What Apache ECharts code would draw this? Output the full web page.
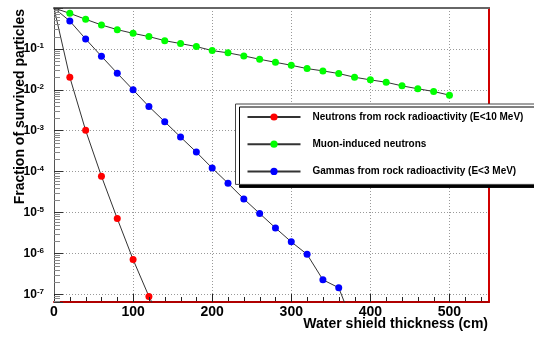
<!DOCTYPE html>
<html><head><meta charset="utf-8">
<script src="https://cdn.jsdelivr.net/npm/echarts@6/dist/echarts.min.js"></script>
<style>html,body{margin:0;padding:0;background:#fff}#c{width:534px;height:337px}</style>
</head><body><div id="c"></div>
<script>
// Water shield thickness (cm)
const thickness = [0,20,40,60,80,100,120,140,160,180,200,220,240,260,280,300,320,340,360,380,400,420,440,460,480,500];
// Neutrons from rock radioactivity (E<10 MeV)
const neutronsRock = [1, 0.0203, 1.02e-3, 7.7e-5, 7.1e-6, 7.1e-7, 8.9e-8, 1.5e-8];
// Muon-induced neutrons
const muonNeutrons = [1, 0.74, 0.53, 0.385, 0.296, 0.24, 0.2, 0.159, 0.135, 0.114, 0.091, 0.080, 0.0675, 0.0558, 0.047, 0.0398, 0.033, 0.029, 0.025, 0.0203, 0.0175, 0.0153, 0.0125, 0.0106, 0.0091, 0.0074];
// Gammas from rock radioactivity (E<3 MeV)
const gammasRock = [1, 0.48, 0.175, 0.066, 0.0254, 0.01, 0.0039, 0.00166, 7.0e-4, 3.0e-4, 1.22e-4, 5.2e-5, 2.15e-5, 9.5e-6, 4.2e-6, 1.92e-6, 9.5e-7, 2.27e-7, 1.45e-7, 1.5e-8];
const seriesNames = ['Neutrons from rock radioactivity (E<10 MeV)', 'Muon-induced neutrons', 'Gammas from rock radioactivity (E<3 MeV)'];
const seriesColors = ['#ff0000', '#00ff00', '#0000ff'];
const xMajorTicks = [0, 100, 200, 300, 400, 500];
const yDecadeExponents = [-7, -6, -5, -4, -3, -2, -1];
const xTitle = 'Water shield thickness (cm)';
const yTitle = 'Fraction of survived particles';

const FONT = '"Liberation Sans", Arial, Helvetica, sans-serif';
const xMin = 0, xMax = 550, yMin = 6.5e-8, yMax = 1;

const minorX = [];
for (let v = 20; v < xMax; v += 20) if (v % 100) minorX.push(v);
const minorY = [];
for (let e = -8; e < 0; e++) for (let k = 2; k <= 9; k++) { const v = k * Math.pow(10, e); if (v >= yMin && v <= yMax) minorY.push(v); }

function pairs(vals) {
  return vals.map((v, i) => i === 0 ? { value: [thickness[i], v], symbol: 'none' } : [thickness[i], v]);
}

const chart = echarts.init(document.getElementById('c'), null, { renderer: 'canvas' });
const dataSets = [neutronsRock, muonNeutrons, gammasRock];

chart.setOption({
  animation: false,
  backgroundColor: '#fff',
  grid: { left: 54, top: 8, width: 435, height: 294 },
  xAxis: [
    { type: 'value', position: 'bottom', min: xMin, max: xMax,
      axisLine: { onZero: false, lineStyle: { color: '#b00000', width: 2 } },
      axisTick: { inside: true, length: 8, customValues: xMajorTicks, lineStyle: { color: '#222' } },
      axisLabel: { customValues: xMajorTicks, color: '#000', fontFamily: FONT, fontWeight: 'bold', fontSize: 14, margin: 3 },
      splitLine: { show: true, lineStyle: { color: '#999', type: [1, 2] } } },
    { type: 'value', position: 'top', min: xMin, max: xMax,
      axisLine: { onZero: false, lineStyle: { color: '#666', width: 2 } },
      axisTick: { show: false }, axisLabel: { show: false }, splitLine: { show: false } }
  ],
  yAxis: [
    { type: 'log', logBase: 10, position: 'left', min: yMin, max: yMax,
      axisLine: { show: true, onZero: false, lineStyle: { color: '#555', width: 1 } },
      axisTick: { show: true, inside: true, length: 9, lineStyle: { color: '#333' } },
      axisLabel: { color: '#000', margin: 10, fontFamily: FONT,
        formatter: function (v) {
          const l = Math.log10(v), e = Math.round(l);
          if (Math.abs(l - e) > 1e-6 || yDecadeExponents.indexOf(e) < 0) return '';
          return '{b|10}{s|' + e + '}';
        },
        rich: {
          b: { fontFamily: FONT, fontWeight: 'bold', fontSize: 12, color: '#000', lineHeight: 14, verticalAlign: 'middle' },
          s: { fontFamily: FONT, fontWeight: 'bold', fontSize: 8, color: '#000', lineHeight: 8, verticalAlign: 'top' }
        } },
      splitLine: { show: true, lineStyle: { color: '#999', type: [1, 2] } } },
    { type: 'log', logBase: 10, position: 'right', min: yMin, max: yMax,
      axisLine: { show: true, onZero: false, lineStyle: { color: '#d00000', width: 2 } },
      axisTick: { show: false }, axisLabel: { show: false }, splitLine: { show: false } }
  ],
  legend: {
    orient: 'vertical', left: 235.5, top: 104,
    padding: [8, 45, 8, 11], itemWidth: 53, itemHeight: 9, itemGap: 17.2,
    backgroundColor: '#fff', borderColor: '#444', borderWidth: 1,
    shadowColor: '#000', shadowOffsetX: 4, shadowOffsetY: 3, shadowBlur: 0,
    textStyle: { fontFamily: FONT, fontSize: 10, fontWeight: 'bold', color: '#000', padding: [0, 0, 0, 7] },
    data: seriesNames
  },
  series: dataSets.map((d, i) => ({
    name: seriesNames[i], type: 'line', xAxisIndex: 0, yAxisIndex: 0,
    data: pairs(d), symbol: 'circle', symbolSize: 7, clip: true,
    itemStyle: { color: seriesColors[i] },
    lineStyle: { color: '#333', width: 1 },
    z: 3
  }))
});

// Minor ticks (ROOT style), positioned through the chart's own axis scales
const gLeft = chart.convertToPixel({ xAxisIndex: 0 }, xMin);
const gBottom = chart.convertToPixel({ yAxisIndex: 0 }, yMin);
const graphics = [
  { type: 'text', right: 46, top: 317, style: { text: xTitle, font: 'bold 14px ' + FONT, fill: '#000' } },
  { type: 'text', x: 20, y: 9, rotation: Math.PI / 2, style: { text: yTitle, font: 'bold 14px ' + FONT, fill: '#000', align: 'right', verticalAlign: 'middle' } }
];
minorX.forEach(v => {
  const p = Math.round(chart.convertToPixel({ xAxisIndex: 0 }, v)) + 0.5;
  graphics.push({ type: 'line', z: 5, silent: true, shape: { x1: p, y1: gBottom - 1, x2: p, y2: gBottom - 5 }, style: { stroke: '#222', lineWidth: 1 } });
});
minorY.forEach(v => {
  const p = Math.round(chart.convertToPixel({ yAxisIndex: 0 }, v)) + 0.5;
  graphics.push({ type: 'line', z: 5, silent: true, shape: { x1: gLeft, y1: p, x2: gLeft + 6, y2: p }, style: { stroke: '#888', lineWidth: 1 } });
});
chart.setOption({ graphic: graphics });
</script></body></html>
